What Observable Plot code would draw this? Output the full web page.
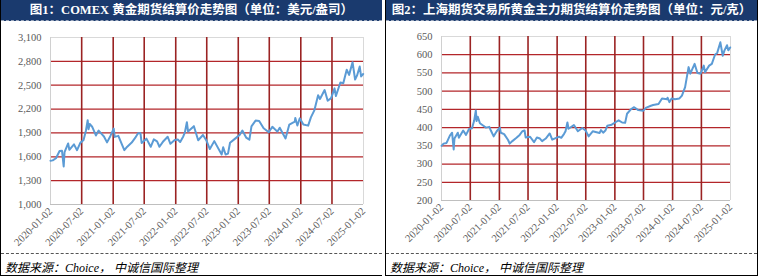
<!DOCTYPE html>
<html>
<head>
<meta charset="utf-8">
<script src="https://cdn.jsdelivr.net/npm/d3@7"></script>
<script src="https://cdn.jsdelivr.net/npm/@observablehq/plot@0.6"></script>
<style>
  html, body { margin: 0; padding: 0; background: #fff; }
  #wrap { position: relative; width: 759px; height: 280px; overflow: hidden; }
  .panel { position: absolute; top: 0; height: 276px; box-sizing: border-box; border-left: 1.5px solid #000; border-bottom: 1.5px solid #000; }
  .title { position: absolute; top: 0; left: 0; right: 0; height: 20px; background: #1a3a6e; color: #fff; font-weight: bold; font-family: "Liberation Serif", "Noto Sans CJK SC", serif; text-align: center; line-height: 20px; white-space: nowrap; border-bottom: 1px dashed #9aa7bd; }
  .src { position: absolute; left: 0; right: 0; top: 253px; border-top: 1px dashed #555; font-family: "Liberation Serif", "Noto Sans CJK SC", serif; font-style: italic; font-size: 12px; color: #000; padding-left: 4px; padding-top: 4px; }
  .chart { position: absolute; top: 22px; left: 0; }
</style>
</head>
<body>
<div id="wrap">
  <div class="panel" id="p1" style="left:0; width:382px;">
    <div class="title" style="font-size:12.5px;">图1：COMEX 黄金期货结算价走势图（单位：美元/盎司）</div>
    <div class="chart" id="c1"></div>
    <div class="src">数据来源：Choice，&nbsp;中诚信国际整理</div>
  </div>
  <div class="panel" id="p2" style="left:385px; width:373px; border-right:1.5px solid #000;">
    <div class="title" style="font-size:12.5px;">图2：上海期货交易所黄金主力期货结算价走势图（单位：元/克）</div>
    <div class="chart" id="c2"></div>
    <div class="src">数据来源：Choice，&nbsp;中诚信国际整理</div>
  </div>
</div>
<script>
// ---------- data ----------
const xTickLabels = ["2020-01-02","2020-07-02","2021-01-02","2021-07-02","2022-01-02","2022-07-02","2023-01-02","2023-07-02","2024-01-02","2024-07-02","2025-01-02"];

const comexYTicks = [1000, 1300, 1600, 1900, 2200, 2500, 2800, 3100];
const shfeYTicks = [200, 250, 300, 350, 400, 450, 500, 550, 600, 650];

const seriesDates = ["2020-01-02","2020-01-15","2020-02-03","2020-02-24","2020-03-09","2020-03-19","2020-03-24","2020-04-14","2020-04-21","2020-05-18","2020-06-05","2020-06-24","2020-07-13","2020-07-27","2020-08-06","2020-08-11","2020-08-18","2020-09-01","2020-09-23","2020-10-09","2020-10-30","2020-11-09","2020-11-27","2020-12-16","2021-01-05","2021-01-11","2021-02-01","2021-02-26","2021-03-08","2021-03-25","2021-04-20","2021-05-10","2021-05-27","2021-06-10","2021-06-17","2021-07-15","2021-08-09","2021-08-27","2021-09-15","2021-09-29","2021-10-22","2021-11-16","2021-12-02","2021-12-27","2022-01-14","2022-01-28","2022-02-15","2022-02-24","2022-03-08","2022-03-15","2022-04-18","2022-05-13","2022-06-10","2022-07-01","2022-07-20","2022-08-15","2022-09-27","2022-10-06","2022-10-20","2022-11-03","2022-11-15","2022-12-13","2023-01-11","2023-01-26","2023-02-17","2023-03-08","2023-03-20","2023-04-13","2023-05-04","2023-05-30","2023-06-29","2023-07-20","2023-08-18","2023-09-01","2023-10-05","2023-10-27","2023-11-28","2023-12-01","2023-12-13","2023-12-27","2024-01-17","2024-02-14","2024-03-01","2024-03-21","2024-04-12","2024-04-23","2024-05-20","2024-06-07","2024-06-27","2024-07-17","2024-07-25","2024-08-20","2024-09-06","2024-09-26","2024-10-10","2024-10-30","2024-11-14","2024-11-25","2024-12-11","2024-12-19","2024-12-31"];

const comexValues = [1550,1555,1582,1672,1676,1478,1660,1768,1688,1756,1683,1775,1810,1931,2060,1946,2013,1978,1868,1930,1879,1855,1781,1859,1954,1850,1863,1734,1683,1727,1779,1837,1895,1896,1774,1828,1726,1819,1794,1726,1796,1852,1763,1811,1818,1786,1856,1903,2035,1918,1985,1808,1874,1801,1697,1797,1629,1720,1628,1640,1776,1825,1878,1930,1842,1815,1982,2055,2050,1958,1908,1977,1916,1966,1831,2005,2041,2089,1993,2083,2006,1992,2095,2183,2374,2327,2439,2305,2337,2460,2365,2534,2525,2694,2630,2790,2572,2620,2735,2610,2641];

const shfeValues = [350,356,358,378,386,340,370,386,372,392,380,396,398,420,447,418,430,412,405,400,402,392,376,390,400,386,382,366,356,363,372,380,390,392,373,375,360,373,370,363,370,384,367,372,375,372,383,390,414,397,407,390,399,392,376,390,385,393,386,392,405,408,416,420,414,413,438,450,456,448,446,455,460,462,465,480,478,482,470,480,478,480,488,511,566,548,575,550,548,570,552,570,575,600,605,634,597,612,626,612,620];

// ---------- helpers ----------
const parse = d3.utcParse("%Y-%m-%d");
const xTickDates = xTickLabels.map(parse);
const fmtDate = d3.utcFormat("%Y-%m-%d");

function makeChart({dates, values, yTicks, width, height, mL, mR, mT, mB, yFmt}) {
  const data = dates.map((d, i) => ({date: parse(d), value: values[i]}));
  const yMin = yTicks[0], yMax = yTicks[yTicks.length - 1];
  return Plot.plot({
    width, height,
    marginLeft: mL, marginRight: mR, marginTop: mT, marginBottom: mB,
    x: {type: "utc", domain: [xTickDates[0], xTickDates[xTickDates.length - 1]]},
    y: {domain: [yMin, yMax]},
    style: {fontFamily: "'Liberation Serif', serif", fontSize: "10.5px", color: "#595959", background: "transparent", overflow: "visible"},
    marks: [
      Plot.ruleY([yMax], {stroke: "#d9d9d9", strokeWidth: 1}),
      Plot.ruleX([xTickDates[xTickDates.length - 1]], {stroke: "#d9d9d9", strokeWidth: 1}),
      Plot.ruleY(yTicks.filter(v => v > yMin && v < yMax), {stroke: "#b3262a", strokeWidth: 1.3}),
      Plot.ruleX(xTickDates.slice(1, -1), {stroke: "#9b2323", strokeWidth: 1.6}),
      Plot.ruleY([yMin], {stroke: "#bfbfbf", strokeWidth: 1}),
      Plot.ruleX([xTickDates[0]], {stroke: "#d0d0d0", strokeWidth: 1}),
      Plot.line(data, {x: "date", y: "value", stroke: "#5b9bd5", strokeWidth: 2}),
      Plot.axisY({ticks: yTicks, tickSize: 0, tickPadding: 9, tickFormat: yFmt, label: null}),
      Plot.axisX({ticks: xTickDates, tickSize: 0, tickPadding: 5, tickRotate: -45, tickFormat: fmtDate, label: null})
    ]
  });
}

document.getElementById("c1").appendChild(makeChart({
  dates: seriesDates, values: comexValues, yTicks: comexYTicks,
  width: 380, height: 230, mL: 49, mR: 18, mT: 15, mB: 48, yFmt: d3.format(",")
}));

document.getElementById("c2").appendChild(makeChart({
  dates: seriesDates, values: shfeValues, yTicks: shfeYTicks,
  width: 371, height: 230, mL: 55, mR: 27, mT: 14, mB: 52, yFmt: d3.format("d")
}));
</script>
</body>
</html>
